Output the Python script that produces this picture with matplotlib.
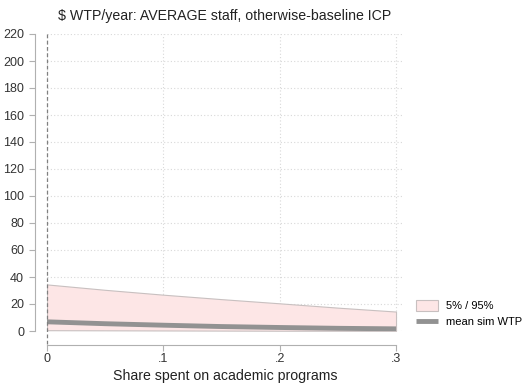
import matplotlib.pyplot as plt

plt.rcParams['font.family'] = ['Liberation Sans', 'DejaVu Sans']

# simulated WTP by share spent on academic programs
share = [0, 0.05, 0.1, 0.15, 0.2, 0.25, 0.3]
p95 = [34.5, 30.5, 26.9, 23.6, 20.5, 17.3, 14.4]
p5 = [0.6, 0.5, 0.4, 0.3, 0.2, 0.2, 0.1]
mean_wtp = [6.8, 5.4, 4.3, 3.3, 2.6, 2.0, 1.6]

fig = plt.figure(figsize=(5.25, 3.85), dpi=100)
ax = fig.add_axes([47 / 525, 1 - 331 / 385, 356 / 525, 297 / 385])

ax.fill_between(share, p5, p95, facecolor='#fde6e6', edgecolor='#c8c0c0',
                linewidth=0.8, label='5% / 95%', zorder=2)
ax.plot(share, mean_wtp, color='#929292', linewidth=3.5, label='mean sim WTP',
        solid_capstyle='butt', zorder=3)
ax.axvline(0, color='#808080', linestyle=(0, (3, 2)), linewidth=0.9,
           ymin=-0.045, clip_on=False, zorder=4)

ax.set_xlim(0, 0.306)
ax.set_ylim(0, 220)
ax.set_yticks(range(0, 221, 20))
ax.set_xticks([0, 0.1, 0.2, 0.3])
ax.set_xticklabels(['0', '.1', '.2', '.3'])
ax.grid(True, color='#d8d8d8', linestyle=(0, (1, 2)), linewidth=0.8)
ax.set_axisbelow(True)

for s in ['top', 'right']:
    ax.spines[s].set_visible(False)
ax.spines['left'].set_position(('outward', 9))
ax.spines['bottom'].set_position(('outward', 10))
ax.spines['left'].set_bounds(0, 220)
ax.spines['bottom'].set_bounds(0, 0.3)
for s in ['left', 'bottom']:
    ax.spines[s].set_color('#b0b0b0')
ax.tick_params(colors='#b0b0b0', labelcolor='#333333', labelsize=9, length=4)
ax.tick_params(axis='x', pad=2)

ax.set_xlabel('Share spent on academic programs', fontsize=10.2,
              color='#222222', labelpad=3)
ax.set_title('$ WTP/year: AVERAGE staff, otherwise-baseline ICP', fontsize=10.2,
             color='#222222', pad=10)

fig.legend(*ax.get_legend_handles_labels(), loc='upper left',
           bbox_to_anchor=(416 / 525, 1 - 300 / 385), frameon=False,
           fontsize=8, handlelength=2.0, handleheight=1.2, handletextpad=0.7,
           labelspacing=0.4, borderpad=0, borderaxespad=0)

fig.savefig('out.png', dpi=100)
